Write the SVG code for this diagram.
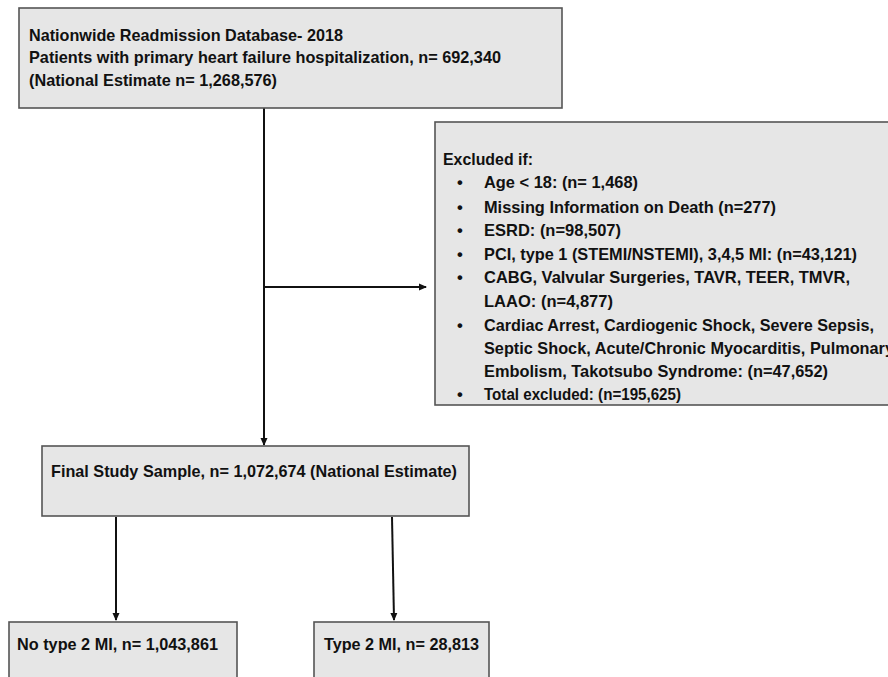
<svg xmlns="http://www.w3.org/2000/svg" width="888" height="677" viewBox="0 0 888 677">
<style>
.box{fill:#e6e6e6;stroke:#555;stroke-width:1.6}
.t{font-family:"Liberation Sans",Arial,sans-serif;font-weight:bold;font-size:16.5px;fill:#111}
.ln{stroke:#111;stroke-width:2;fill:none}
</style>
<defs>
<marker id="ah" markerWidth="8" markerHeight="8" refX="7" refY="4" orient="auto" markerUnits="userSpaceOnUse">
<path d="M0,0.5 L8,4 L0,7.5 Z" fill="#111"/>
</marker>
</defs>
<rect width="888" height="677" fill="#fff"/>
<g id="connectors">
<line class="ln" x1="264" y1="108" x2="264" y2="445" marker-end="url(#ah)"/>
<line class="ln" x1="264" y1="287" x2="426" y2="287" marker-end="url(#ah)"/>
<line class="ln" x1="116" y1="517" x2="116" y2="620" marker-end="url(#ah)"/>
<line class="ln" x1="392" y1="517" x2="394" y2="620" marker-end="url(#ah)"/>
</g>
<g id="source">
<rect class="box" x="19" y="8" width="543" height="100"/>
<text class="t" x="29" y="41" textLength="314" lengthAdjust="spacingAndGlyphs">Nationwide Readmission Database- 2018</text>
<text class="t" x="29" y="63" textLength="472" lengthAdjust="spacingAndGlyphs">Patients with primary heart failure hospitalization, n= 692,340</text>
<text class="t" x="29" y="86" textLength="248" lengthAdjust="spacingAndGlyphs">(National Estimate n= 1,268,576)</text>
</g>
<g id="excluded">
<rect class="box" x="435" y="122" width="470" height="283"/>
<text class="t" x="443" y="165" textLength="90" lengthAdjust="spacingAndGlyphs">Excluded if:</text>
<g class="t">
<text x="457" y="188">•</text>
<text x="457" y="213">•</text>
<text x="457" y="236">•</text>
<text x="457" y="260">•</text>
<text x="457" y="283">•</text>
<text x="457" y="331">•</text>
<text x="457" y="400">•</text>
</g>
<text class="t" x="484" y="188" textLength="154" lengthAdjust="spacingAndGlyphs">Age &lt; 18: (n= 1,468)</text>
<text class="t" x="484" y="213" textLength="292" lengthAdjust="spacingAndGlyphs">Missing Information on Death (n=277)</text>
<text class="t" x="484" y="236" textLength="137" lengthAdjust="spacingAndGlyphs">ESRD: (n=98,507)</text>
<text class="t" x="484" y="260" textLength="373" lengthAdjust="spacingAndGlyphs">PCI, type 1 (STEMI/NSTEMI), 3,4,5 MI: (n=43,121)</text>
<text class="t" x="484" y="283" textLength="366" lengthAdjust="spacingAndGlyphs">CABG, Valvular Surgeries, TAVR, TEER, TMVR,</text>
<text class="t" x="484" y="307" textLength="129" lengthAdjust="spacingAndGlyphs">LAAO: (n=4,877)</text>
<text class="t" x="484" y="331" textLength="390" lengthAdjust="spacingAndGlyphs">Cardiac Arrest, Cardiogenic Shock, Severe Sepsis,</text>
<text class="t" x="484" y="354" textLength="410" lengthAdjust="spacingAndGlyphs">Septic Shock, Acute/Chronic Myocarditis, Pulmonary</text>
<text class="t" x="484" y="377" textLength="344" lengthAdjust="spacingAndGlyphs">Embolism, Takotsubo Syndrome: (n=47,652)</text>
<text class="t" x="484" y="400" textLength="197" lengthAdjust="spacingAndGlyphs">Total excluded: (n=195,625)</text>
</g>
<g id="final">
<rect class="box" x="42" y="446" width="427" height="70"/>
<text class="t" x="51" y="477" textLength="406" lengthAdjust="spacingAndGlyphs">Final Study Sample, n= 1,072,674 (National Estimate)</text>
</g>
<g id="notype2">
<rect class="box" x="9" y="622" width="228" height="70"/>
<text class="t" x="17" y="650" textLength="201" lengthAdjust="spacingAndGlyphs">No type 2 MI, n= 1,043,861</text>
</g>
<g id="type2">
<rect class="box" x="314" y="622" width="175" height="70"/>
<text class="t" x="324" y="650" textLength="155" lengthAdjust="spacingAndGlyphs">Type 2 MI, n= 28,813</text>
</g>
</svg>
